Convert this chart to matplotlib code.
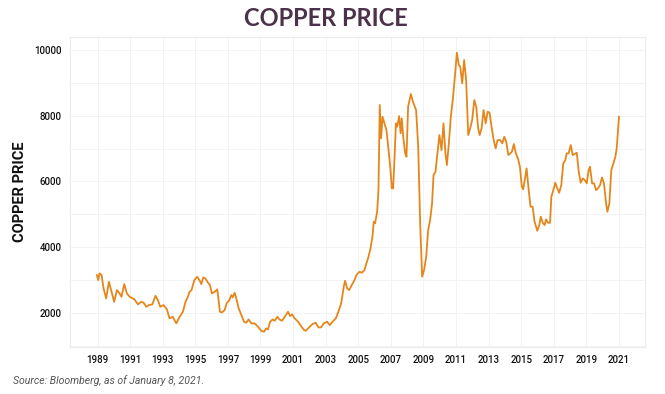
import matplotlib
matplotlib.use("Agg")
import matplotlib.pyplot as plt
from matplotlib.ticker import MultipleLocator

# copper price (decimal year, USD/t)
years = [1988.96, 1989.04, 1989.12, 1989.25, 1989.37, 1989.53, 1989.70, 1989.86, 1990.02, 1990.19,
         1990.35, 1990.47, 1990.64, 1990.80, 1990.97, 1991.27, 1991.48, 1991.68, 1991.83, 1991.99,
         1992.15, 1992.36, 1992.56, 1992.70, 1992.85, 1993.05, 1993.26, 1993.42, 1993.62, 1993.83,
         1994.04, 1994.24, 1994.40, 1994.53, 1994.65, 1994.77, 1994.94, 1995.12, 1995.25, 1995.37,
         1995.49, 1995.62, 1995.78, 1995.90, 1996.02, 1996.19, 1996.35, 1996.51, 1996.64, 1996.80,
         1996.92, 1997.09, 1997.21, 1997.29, 1997.42, 1997.54, 1997.66, 1997.83, 1997.99, 1998.13,
         1998.27, 1998.44, 1998.64, 1998.85, 1999.05, 1999.22, 1999.34, 1999.46, 1999.59, 1999.75,
         1999.87, 2000.04, 2000.16, 2000.32, 2000.49, 2000.69, 2000.82, 2000.94, 2001.10, 2001.31,
         2001.52, 2001.68, 2001.78, 2001.98, 2002.19, 2002.39, 2002.56, 2002.72, 2002.88, 2003.09,
         2003.25, 2003.42, 2003.62, 2003.78, 2003.95, 2004.11, 2004.19, 2004.32, 2004.44, 2004.60,
         2004.77, 2004.89, 2005.01, 2005.09, 2005.22, 2005.38, 2005.50, 2005.63, 2005.75, 2005.87,
         2005.95, 2006.03, 2006.16, 2006.24, 2006.32, 2006.40, 2006.49, 2006.61, 2006.73, 2006.86,
         2006.98, 2007.06, 2007.14, 2007.23, 2007.31, 2007.39, 2007.51, 2007.60, 2007.67, 2007.76,
         2007.88, 2007.96, 2008.06, 2008.23, 2008.35, 2008.47, 2008.55, 2008.68, 2008.80, 2008.92,
         2009.04, 2009.17, 2009.29, 2009.41, 2009.53, 2009.62, 2009.74, 2009.86, 2009.98, 2010.11,
         2010.23, 2010.35, 2010.44, 2010.56, 2010.68, 2010.80, 2010.93, 2011.05, 2011.17, 2011.26,
         2011.38, 2011.50, 2011.62, 2011.75, 2011.87, 2011.99, 2012.12, 2012.24, 2012.36, 2012.45,
         2012.57, 2012.69, 2012.82, 2012.94, 2013.06, 2013.18, 2013.31, 2013.43, 2013.55, 2013.71,
         2013.84, 2013.96, 2014.08, 2014.21, 2014.33, 2014.43, 2014.55, 2014.67, 2014.80, 2014.92,
         2015.04, 2015.12, 2015.20, 2015.33, 2015.45, 2015.57, 2015.70, 2015.82, 2015.99, 2016.11,
         2016.20, 2016.32, 2016.44, 2016.52, 2016.64, 2016.77, 2016.85, 2016.97, 2017.09, 2017.21,
         2017.33, 2017.46, 2017.58, 2017.71, 2017.79, 2017.91, 2018.04, 2018.16, 2018.28, 2018.41,
         2018.53, 2018.65, 2018.78, 2018.90, 2019.02, 2019.14, 2019.22, 2019.35, 2019.47, 2019.59,
         2019.71, 2019.84, 2019.96, 2020.08, 2020.21, 2020.29, 2020.41, 2020.53, 2020.66, 2020.78,
         2020.86, 2021.00]
price = [3155, 3003, 3207, 3155, 2750, 2447, 2952, 2648, 2343, 2700,
         2598, 2496, 2882, 2598, 2496, 2416, 2264, 2343, 2314, 2192,
         2243, 2264, 2526, 2395, 2192, 2243, 2112, 1838, 1888, 1687,
         1888, 2040, 2343, 2477, 2648, 2700, 3003, 3104, 3003, 2882,
         3084, 3054, 2922, 2851, 2598, 2648, 2720, 2040, 2020, 2091,
         2294, 2395, 2547, 2477, 2618, 2395, 2143, 1939, 1736, 1706,
         1808, 1687, 1687, 1584, 1462, 1432, 1534, 1503, 1736, 1808,
         1767, 1888, 1808, 1767, 1888, 2040, 1909, 1960, 1838, 1736,
         1584, 1483, 1462, 1565, 1666, 1706, 1565, 1565, 1687, 1736,
         1635, 1736, 1838, 2040, 2294, 2800, 2982, 2750, 2700, 2851,
         3003, 3155, 3225, 3256, 3225, 3307, 3510, 3712, 3966, 4320,
         4775, 4727, 5080, 5739, 8323, 7311, 7967, 7767, 7563, 6955,
         6347, 5791, 5791, 6752, 7767, 7665, 7988, 7463, 7919, 7360,
         6855, 6753, 8273, 8658, 8425, 8273, 8172, 7056, 4727, 3104,
         3307, 3712, 4523, 4827, 5335, 6195, 6296, 6855, 7411, 6955,
         7767, 6855, 6499, 7158, 7967, 8475, 9184, 9913, 9539, 9488,
         8982, 9691, 9083, 7411, 7614, 7867, 8475, 8273, 7614, 7411,
         7614, 8172, 7767, 8122, 8091, 7665, 7259, 7006, 7259, 7259,
         7158, 7360, 7208, 6803, 6855, 6904, 7138, 6855, 6703, 6448,
         5840, 5761, 5992, 6398, 5791, 5232, 5232, 4775, 4502, 4675,
         4928, 4745, 4675, 4848, 4745, 4745, 5537, 5739, 5962, 5791,
         5657, 5891, 6550, 6651, 6855, 6855, 7107, 6803, 6834, 6874,
         6296, 5962, 6094, 6043, 5943, 6347, 6448, 5943, 5943, 5739,
         5791, 5891, 6125, 5943, 5335, 5080, 5335, 6347, 6550, 6753,
         7006, 7967]
tick_years = list(range(1989, 2022, 2))

fig = plt.figure(figsize=(6.65, 3.94), dpi=100)
ax = fig.add_axes([0.105, 0.119, 0.865, 0.787])

ax.plot(years, price, color='#e5861b', linewidth=1.3)

ax.set_xlim(1987.3, 2022.6)
ax.set_ylim(966, 10390)
ax.set_xticks(tick_years)
ax.set_xticklabels([str(y) for y in tick_years])
ax.yaxis.set_major_locator(MultipleLocator(2000))
ax.yaxis.set_minor_locator(MultipleLocator(1000))
ax.set_yticks([2000, 4000, 6000, 8000, 10000])

ax.grid(True, which='both', color='#f3f3f3', linewidth=0.7)
ax.set_axisbelow(True)
ax.tick_params(which='both', length=0)
ax.tick_params(axis='y', labelsize=7, pad=6, labelcolor='#111111')
ax.tick_params(axis='x', labelsize=7, pad=6, labelcolor='#111111')
for lab in ax.get_xticklabels() + ax.get_yticklabels():
    lab.set_fontfamily('Roboto')
    lab.set_fontweight('medium')
for s in ax.spines.values():
    s.set_color('#ececec')
    s.set_linewidth(0.8)

ax.set_ylabel('COPPER PRICE', fontsize=10.5, fontweight='bold', family='Roboto',
              color='#111111', labelpad=5)

fig.text(0.49, 0.953, 'COPPER PRICE', ha='center', va='center', fontsize=17,
         fontweight='bold', family='Lato', color='#4b3149')
fig.text(0.02, 0.035, 'Source: Bloomberg, as of January 8, 2021.', ha='left', va='center',
         fontsize=7.6, style='italic', family='Roboto', color='#555555')

fig.savefig('out.png', dpi=100)
